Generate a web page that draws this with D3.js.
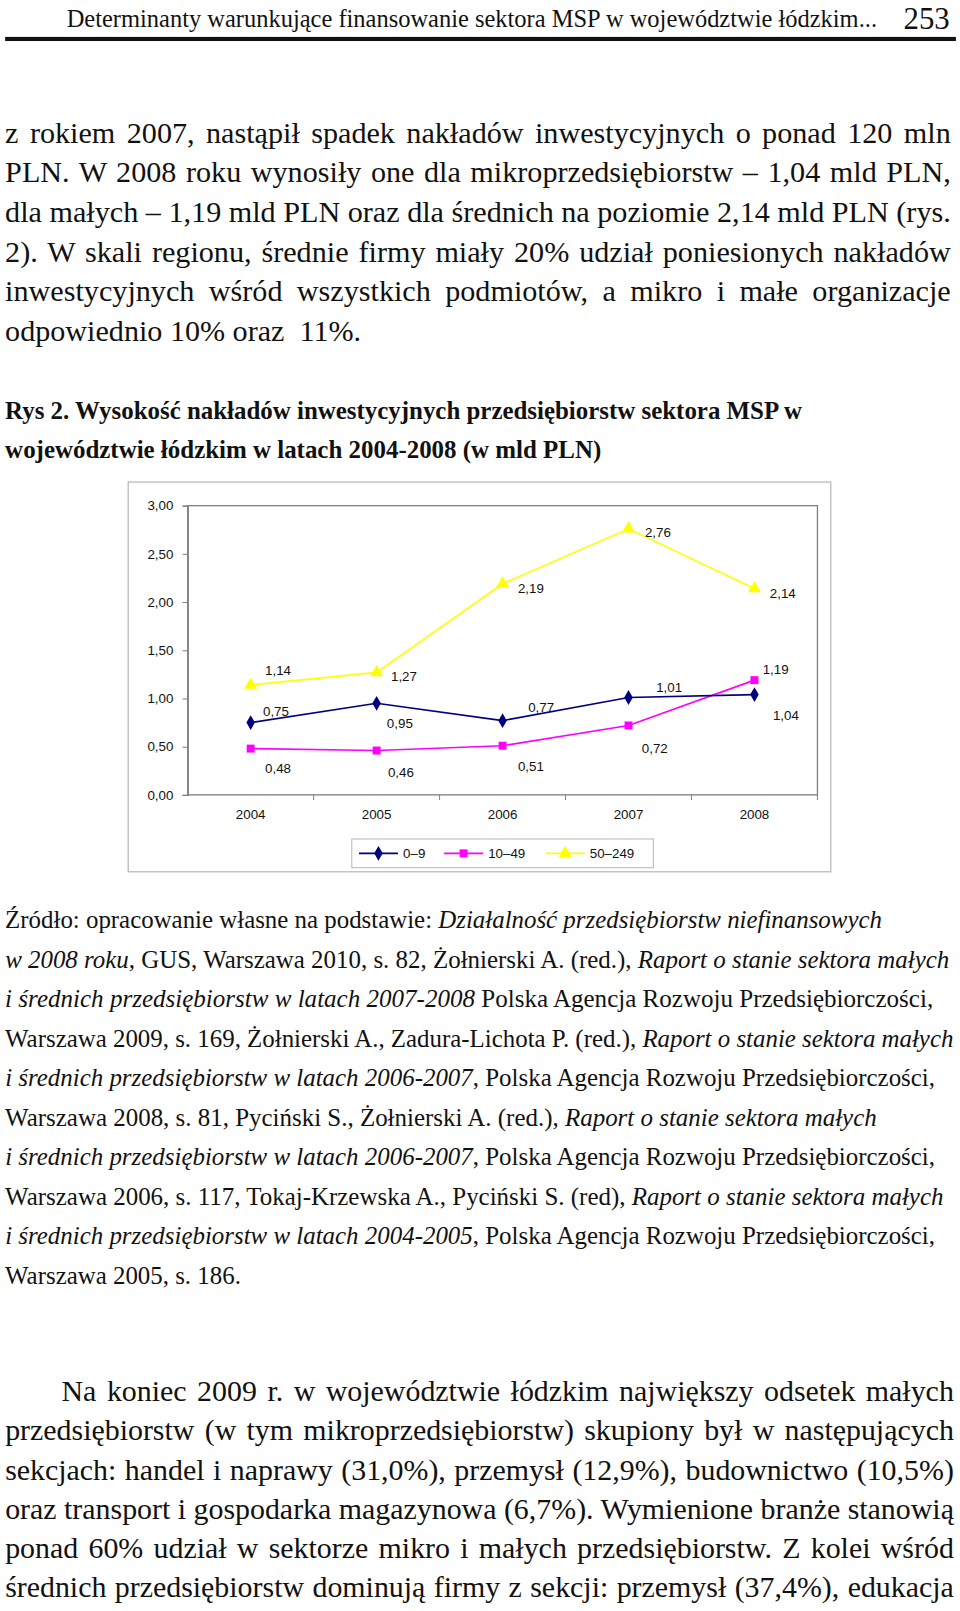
<!DOCTYPE html>
<html><head><meta charset="utf-8">
<script src="https://cdn.jsdelivr.net/npm/d3@7"></script>
<style>
html,body{margin:0;padding:0;background:#fff}
svg{display:block}
.serif{font-family:"Liberation Serif","Times New Roman",serif}
.sans{font-family:"Liberation Sans",Arial,sans-serif}
</style>
</head><body>
<script>
// ---------- DATA ----------
const years = ["2004","2005","2006","2007","2008"];
const seriesNames = ["0–9","10–49","50–249"];
const micro  = [0.75, 0.95, 0.77, 1.01, 1.04];
const small  = [0.48, 0.46, 0.51, 0.72, 1.19];
const medium = [1.14, 1.27, 2.19, 2.76, 2.14];
const yTicks = [0, 0.5, 1, 1.5, 2, 2.5, 3];

// ---------- TEXT ----------
const headerText = "Determinanty warunkujące finansowanie sektora MSP w województwie łódzkim...";
const pageNo = "253";
const bodyLines = [
 "z rokiem 2007, nastąpił spadek nakładów inwestycyjnych o ponad 120 mln",
 "PLN. W 2008 roku wynosiły one dla mikroprzedsiębiorstw – 1,04 mld PLN,",
 "dla małych – 1,19 mld PLN oraz dla średnich na poziomie 2,14 mld PLN (rys.",
 "2). W skali regionu, średnie firmy miały 20% udział poniesionych nakładów",
 "inwestycyjnych wśród wszystkich podmiotów, a mikro i małe organizacje",
 "odpowiednio 10% oraz  11%."
];
const captionLines = [
 "Rys 2. Wysokość nakładów inwestycyjnych przedsiębiorstw sektora MSP w",
 "województwie łódzkim w latach 2004-2008 (w mld PLN)"
];
const sourceLines = [
 [["Źródło: opracowanie własne na podstawie: ",0],["Działalność przedsiębiorstw niefinansowych",1]],
 [["w 2008 roku,",1],[" GUS, Warszawa 2010, s. 82, Żołnierski A. (red.), ",0],["Raport o stanie sektora małych",1]],
 [["i średnich przedsiębiorstw w latach 2007-2008",1],[" Polska Agencja Rozwoju Przedsiębiorczości,",0]],
 [["Warszawa 2009, s. 169, Żołnierski A., Zadura-Lichota P. (red.), ",0],["Raport o stanie sektora małych",1]],
 [["i średnich przedsiębiorstw w latach 2006-2007",1],[", Polska Agencja Rozwoju Przedsiębiorczości,",0]],
 [["Warszawa 2008, s. 81, Pyciński S., Żołnierski A. (red.), ",0],["Raport o stanie sektora małych",1]],
 [["i średnich przedsiębiorstw w latach 2006-2007",1],[", Polska Agencja Rozwoju Przedsiębiorczości,",0]],
 [["Warszawa 2006, s. 117, Tokaj-Krzewska A., Pyciński S. (red), ",0],["Raport o stanie sektora małych",1]],
 [["i średnich przedsiębiorstw w latach 2004-2005",1],[", Polska Agencja Rozwoju Przedsiębiorczości,",0]],
 [["Warszawa 2005, s. 186.",0]]
];
const endLines = [
 "Na koniec 2009 r. w województwie łódzkim największy odsetek małych",
 "przedsiębiorstw (w tym mikroprzedsiębiorstw) skupiony był w następujących",
 "sekcjach: handel i naprawy (31,0%), przemysł (12,9%), budownictwo (10,5%)",
 "oraz transport i gospodarka magazynowa (6,7%). Wymienione branże stanowią",
 "ponad 60% udział w sektorze mikro i małych przedsiębiorstw. Z kolei wśród",
 "średnich przedsiębiorstw dominują firmy z sekcji: przemysł (37,4%), edukacja"
];

// ---------- LAYOUT ----------
const W = 960, H = 1611, S = 960/936;

const svg = d3.select("body").append("svg").attr("width", W).attr("height", H);
const root = svg.append("g").attr("transform", `scale(${S})`);

// Paragraph of serif lines: one font size per paragraph (natural Times proportions),
// justified lines get extra word spacing, then a tiny scale correction hits the measure.
function paragraph(lines, opts) {
  const base = 20;
  const els = lines.map((parts, i) => {
    if (typeof parts === "string") parts = [[parts, 0]];
    const t = root.append("text").attr("class", "serif")
      .attr("x", opts.x[i]).attr("y", opts.y0 + i * opts.dy)
      .style("font-size", base + "px").style("font-weight", opts.weight || "normal")
      .attr("fill", "#111").style("white-space", "pre");
    parts.forEach(p => t.append("tspan").style("font-style", p[1] ? "italic" : "normal").text(p[0]));
    return t;
  });
  const ratios = els.map((t, i) => (opts.end[i] - opts.x[i]) / t.node().getComputedTextLength());
  const ragged = ratios.filter((r, i) => !opts.justify[i]).sort(d3.ascending);
  const full = ratios.filter((r, i) => opts.justify[i]);
  const r = opts.ref === "min" || !ragged.length ? d3.min(full) : d3.median(ragged);
  const fs = base * r * (opts.sizeAdj || 1);
  els.forEach((t, i) => {
    t.style("font-size", fs + "px");
    const target = opts.end[i] - opts.x[i];
    let w = t.node().getComputedTextLength();
    if (opts.justify[i] && target > w) {
      const n = (t.text().match(/ /g) || []).length;
      if (n) { t.style("word-spacing", ((target - w) / n) + "px"); w = t.node().getComputedTextLength(); }
    }
    const x0 = opts.x[i];
    t.attr("transform", `translate(${x0},0) scale(${target / w},1) translate(${-x0},0)`);
  });
}
const rep = (v, n) => Array(n).fill(v);

// header
paragraph([headerText], {x: [65], end: [855], y0: 26, dy: 0, justify: [false]});
paragraph([pageNo], {x: [881], end: [926], y0: 28, dy: 0, justify: [false]});
root.append("rect").attr("x", 5).attr("y", 36).attr("width", 927).attr("height", 4).attr("fill", "#111");

// body
paragraph(bodyLines, {x: rep(5, 6), end: [927, 927, 927, 927, 927, 352], y0: 139, dy: 38.7,
  justify: [true, true, true, true, true, false], ref: "min"});

// caption
paragraph(captionLines, {x: [5, 5], end: [782, 586], y0: 409, dy: 37.5, justify: [false, false], weight: "bold"});

// source
paragraph(sourceLines, {x: rep(5, 10), end: [860, 926, 910, 930, 912, 855, 912, 920, 912, 235],
  y0: 905, dy: 38.5, justify: rep(false, 10)});

// end paragraph
paragraph(endLines, {x: [60, 5, 5, 5, 5, 5], end: rep(930, 6), y0: 1366, dy: 38.3,
  justify: rep(true, 6), ref: "min"});

// ---------- CHART ----------
const ch = root.append("g");
ch.append("rect").attr("x", 125).attr("y", 470).attr("width", 685).attr("height", 380)
  .attr("fill", "#fff").attr("stroke", "#b8b8b8").attr("stroke-width", 1.2);

const px0 = 183, px1 = 797, py0 = 493, py1 = 775;
const x = d3.scaleBand().domain(years).range([px0, px1]);
const y = d3.scaleLinear().domain([0, 3]).range([py1, py0]);

ch.append("rect").attr("x", px0).attr("y", py0).attr("width", px1 - px0).attr("height", py1 - py0)
  .attr("fill", "none").attr("stroke", "#808080").attr("stroke-width", 1.3);

const fmt = d => d3.format(".2f")(d).replace(".", ",");
const yAxis = ch.append("g").attr("transform", `translate(${px0},0)`)
  .call(d3.axisLeft(y).tickValues(yTicks).tickSize(5).tickPadding(9).tickFormat(fmt));
yAxis.attr("font-family", null).attr("font-size", null);
yAxis.select(".domain").attr("stroke", "#808080").attr("stroke-width", 1.3);
yAxis.selectAll(".tick line").attr("stroke", "#808080");
yAxis.selectAll("text").attr("class", "sans").style("font-size", "13px").attr("fill", "#111");

const xAxis = ch.append("g").attr("transform", `translate(0,${py1})`)
  .call(d3.axisBottom(x).tickSize(0).tickPadding(14));
xAxis.attr("font-family", null).attr("font-size", null);
xAxis.select(".domain").remove();
xAxis.selectAll("text").attr("class", "sans").style("font-size", "13px").attr("fill", "#111");
// boundary ticks between categories
ch.append("g").selectAll("line").data(years).join("line")
  .attr("x1", d => x(d) + x.step())
  .attr("x2", d => x(d) + x.step())
  .attr("y1", py1).attr("y2", py1 + 5).attr("stroke", "#808080");

const series = [
  {name: seriesNames[0], values: micro,  color: "#000080", shape: d3.symbolDiamond, size: 60,
   off: [[12,-11],[10,19],[25,-13],[27,-10],[18,20]]},
  {name: seriesNames[1], values: small,  color: "#FF00FF", shape: d3.symbolSquare, size: 60,
   off: [[14,19],[11,21],[15,20],[13,22],[8,-11]]},
  {name: seriesNames[2], values: medium, color: "#FFFF00", shape: d3.symbolTriangle, size: 70,
   off: [[14,-15],[14,3],[15,4],[16,3],[15,4]]}
];
const cx = d => x(d) + x.bandwidth() / 2;
const lineGen = d3.line().x((d, i) => cx(years[i])).y(d => y(d));

[series[2], series[1], series[0]].forEach(s => {
  ch.append("path").datum(s.values).attr("d", lineGen)
    .attr("fill", "none").attr("stroke", s.color).attr("stroke-width", 1.6);
  ch.append("g").selectAll("path").data(s.values).join("path")
    .attr("d", d3.symbol().type(s.shape).size(s.size))
    .attr("transform", (d, i) => `translate(${cx(years[i])},${y(d)})`)
    .attr("fill", s.color);
});
series.forEach(s => {
  ch.append("g").selectAll("text").data(s.values).join("text")
    .attr("class", "sans")
    .attr("x", (d, i) => cx(years[i]) + s.off[i][0])
    .attr("y", (d, i) => y(d) + s.off[i][1] + 5)
    .attr("text-anchor", "start")
    .style("font-size", "13px").attr("fill", "#111")
    .text(fmt);
});

// legend
const lg = ch.append("g");
lg.append("rect").attr("x", 343).attr("y", 818).attr("width", 294).attr("height", 28)
  .attr("fill", "#fff").attr("stroke", "#b8b8b8");
const legX = [350, 433, 532];
series.forEach((s, i) => {
  const lx = legX[i];
  lg.append("line").attr("x1", lx).attr("x2", lx + 38).attr("y1", 832).attr("y2", 832)
    .attr("stroke", s.color).attr("stroke-width", 1.6);
  lg.append("path").attr("d", d3.symbol().type(s.shape).size(s.size))
    .attr("transform", `translate(${lx + 19},832)`).attr("fill", s.color);
  lg.append("text").attr("class", "sans").attr("x", lx + 43).attr("y", 837)
    .style("font-size", "13px").attr("fill", "#111").text(s.name);
});
</script>
</body></html>
